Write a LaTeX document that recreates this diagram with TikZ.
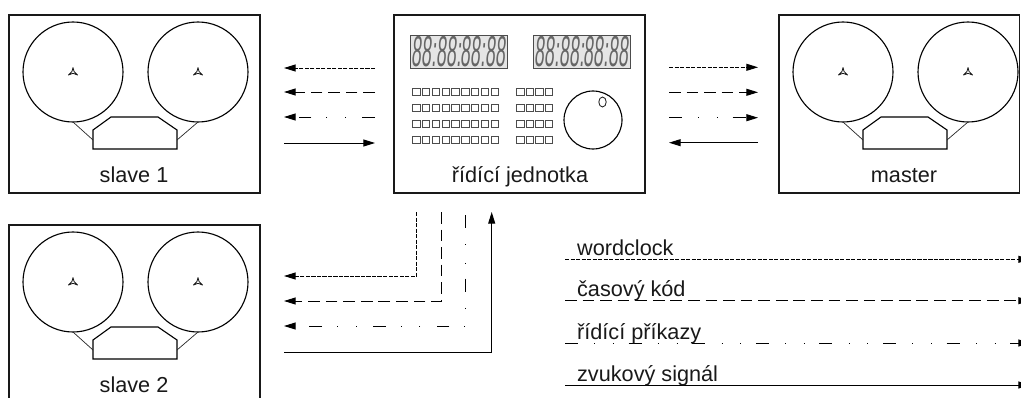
\documentclass[tikz,border=0pt]{standalone}
\usepackage{fontspec}
\setmainfont{Liberation Sans}
\newfontfamily\lcdfont[FakeSlant=0.2]{Liberation Sans}
\usepackage{tikz}
\usetikzlibrary{arrows.meta}

\tikzset{
  frame/.style={draw=black!90, line width=1pt},
  reel/.style={draw=black, line width=0.95pt},
  lead/.style={draw=black!85, line width=0.6pt},
  hub/.style={draw=black!90, line width=0.7pt, line join=round},
  key/.style={draw=black!70, line width=0.7pt},
  lcd/.style={draw=black!70, fill=black!10, line width=0.7pt, minimum width=2.91cm,
    minimum height=0.99cm, inner sep=0pt, text=black!60,
    font=\lcdfont\fontsize{37pt}{37pt}\selectfont},
  sig/.style={draw=black, line width=0.85pt, -{Triangle[length=10pt,width=6pt]}},
  wclk/.style={sig, dash pattern=on 3.5pt off 1.2pt},
  tcode/.style={sig, dash pattern=on 10pt off 5pt},
  cmd/.style={sig, dash pattern=on 11pt off 14pt on 0.9pt off 15pt on 0.9pt off 12.5pt},
  audio/.style={sig}
}

\newcommand{\tapedeck}[6]{%
  \begin{scope}[shift={(#2,#3)}]
    \draw[frame] (0,0) rectangle (#4,#5);
    \foreach \cx in {64,189} {
      \draw[reel] (\cx,57) circle (50);
      \draw[hub] (\cx,52.5) -- (\cx+1,56.4) -- (\cx+4.5,60) -- (\cx,58.3) -- (\cx-4.5,60) -- (\cx-1,56.4) -- cycle;
    }
    \draw[reel] (84,134) -- (84,115) -- (102,102) -- (149,102) -- (168,115) -- (168,134) -- cycle;
    \draw[lead] (64,107) -- (84,125) (189,107) -- (168,125);
    \node[anchor=base] (#1) at (125,167) {#6};
  \end{scope}}

\newcommand{\lcddigits}{\scalebox{0.41}[1]{88:88:88:88}}

\begin{document}
\begin{tikzpicture}[x=0.03cm, y=-0.03cm, every node/.style={font=\fontsize{18.5pt}{22pt}\selectfont, text=black!90}]
    \useasboundingbox (0,0) rectangle (1021,398);
    \clip (0,0) rectangle (1021,398);

    \tapedeck{slaveA}{9}{15}{251}{178}{slave 1}
    \tapedeck{master}{779}{15}{240.5}{178}{master}
    \tapedeck{slaveB}{9}{225}{251}{190}{slave 2}

    \draw[frame] (394,15) rectangle (645,193);
    \node[lcd] (tcA) at (458.5,51.5) {\lcddigits};
    \node[lcd] (tcB) at (581.5,51.5) {\lcddigits};
    \foreach \r in {0,...,3} {
        \foreach \c in {0,...,8}
            \draw[key] (412.7+\c*9.8,88.3+\r*15.9) rectangle ++(7.3,7);
        \foreach \c in {0,...,3}
            \draw[key] (516.7+\c*9.5,88.3+\r*15.9) rectangle ++(7.3,7);
    }
    \draw[reel] (593,120) circle (29);
    \draw[lead, line width=0.75pt] (602.5,102) ellipse (3.7 and 5);
    \node[anchor=base] (unit) at (520,182) {řídící jednotka};

    \foreach \y/\n in {68/a,92/b,117/c,143/d} {
        \coordinate (sl\n) at (284,\y);
        \coordinate (cl\n) at (375,\y);
    }
    \foreach \y/\n in {67.3/a,92.3/b,117.7/c,142.7/d} {
        \coordinate (cr\n) at (669,\y);
        \coordinate (mr\n) at (758,\y);
    }
    \coordinate (ba) at (416.7,212);
    \coordinate (bb) at (441.7,212);
    \coordinate (bc) at (465.7,215);
    \coordinate (bd) at (491.7,212);
    \coordinate (sba) at (284,276);
    \coordinate (sbb) at (284,301);
    \coordinate (sbc) at (284,326);
    \coordinate (sbd) at (284,352);

    \draw[wclk] (cla) -- (sla);
    \draw[tcode] (clb) -- (slb);
    \draw[cmd] (clc) -- (slc);
    \draw[audio] (sld) -- (cld);

    \draw[wclk] (cra) -- (mra);
    \draw[tcode] (crb) -- (mrb);
    \draw[cmd] (crc) -- (mrc);
    \draw[audio] (mrd) -- (crd);

    \draw[wclk] (ba) |- (sba);
    \draw[tcode] (bb) |- (sbb);
    \draw[cmd] (bc) |- (sbc);
    \draw[audio] (sbd) -| (bd);

    \foreach \y/\n in {259.3/a,300.7/b,343/c,385/d} {
        \coordinate (ka\n) at (565,\y);
        \coordinate (kb\n) at (1030,\y);
    }
    \draw[wclk] (kaa) -- (kba);
    \draw[tcode] (kab) -- (kbb);
    \draw[cmd] (kac) -- (kbc);
    \draw[audio] (kad) -- (kbd);
    \node[anchor=base west] (lwclk) at (573,255.3) {wordclock};
    \node[anchor=base west] (ltcode) at (573,296.7) {časový kód};
    \node[anchor=base west] (lcmd) at (573,339) {řídící příkazy};
    \node[anchor=base west] (laudio) at (573,381) {zvukový signál};
\end{tikzpicture}
\end{document}
